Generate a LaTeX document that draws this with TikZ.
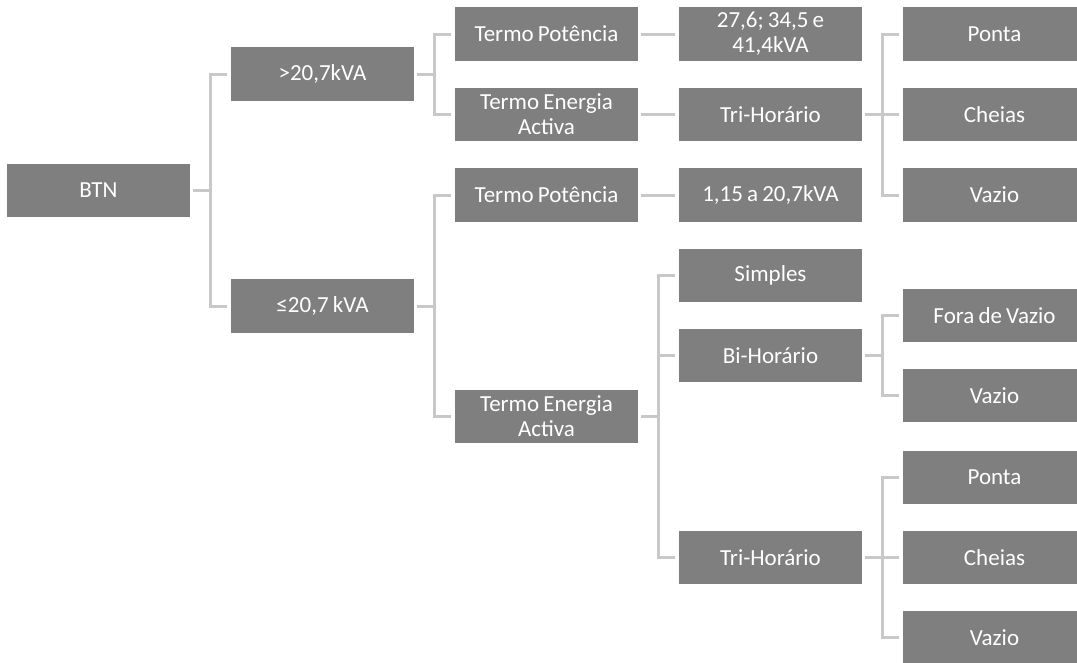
\documentclass[tikz,border=0pt]{standalone}
\usepackage{fontspec}
\setmainfont{Carlito}
\definecolor{boxgray}{RGB}{127,127,127}
\definecolor{linkgray}{RGB}{200,200,200}
\tikzset{
  box/.style={fill=boxgray, text=white, minimum width=183pt, minimum height=53.5pt,
    inner sep=0pt, text width=178pt, align=center,
    font=\fontsize{23}{25}\selectfont,
    execute at begin node={\spaceskip=0.18em\relax}},
  link/.style={draw=linkgray, line width=3pt},
}
\begin{document}
\begin{tikzpicture}[x=1pt,y=-1pt]
  \clip (0,0) rectangle (1077,662);
  \node[box](BTN) at (98.5,190.5){BTN};
  \node[box](GT) at (322.5,74){>20,7kVA};
  \node[box](LE) at (322.5,306){≤20,7 kVA};
  \node[box](TP1) at (546.5,34){Termo Potência};
  \node[box](TE1) at (546.5,114.5){Termo Energia\\Activa};
  \node[box](TP2) at (546.5,195){Termo Potência};
  \node[box](TE2) at (546.5,416.5){Termo Energia\\Activa};
  \node[box](P1) at (770.5,34){27,6; 34,5 e\\41,4kVA};
  \node[box](TH1) at (770.5,114.5){Tri-Horário};
  \node[box](P2) at (770.5,195){1,15 a 20,7kVA};
  \node[box](S) at (770.5,275.5){Simples};
  \node[box](BH) at (770.5,355.5){Bi-Horário};
  \node[box](TH2) at (770.5,557.5){Tri-Horário};
  \node[box](PO1) at (994.5,34){Ponta};
  \node[box](CH1) at (994.5,114.5){Cheias};
  \node[box](VZ1) at (994.5,195){Vazio};
  \node[box](FV) at (994.5,315.5){Fora de Vazio};
  \node[box](VZ2) at (994.5,395.5){Vazio};
  \node[box](PO2) at (994.5,477.5){Ponta};
  \node[box](CH2) at (994.5,557.5){Cheias};
  \node[box](VZ3) at (994.5,637.5){Vazio};
  \draw[link]([xshift=3pt]BTN.east)--++(17,0)|-([xshift=-4pt]GT.west);
  \draw[link]([xshift=3pt]BTN.east)--++(17,0)|-([xshift=-4pt]LE.west);
  \draw[link]([xshift=3pt]GT.east)--++(17,0)|-([xshift=-4pt]TP1.west);
  \draw[link]([xshift=3pt]GT.east)--++(17,0)|-([xshift=-4pt]TE1.west);
  \draw[link]([xshift=3pt]LE.east)--++(17,0)|-([xshift=-4pt]TP2.west);
  \draw[link]([xshift=3pt]LE.east)--++(17,0)|-([xshift=-4pt]TE2.west);
  \draw[link]([xshift=3pt]TP1.east)--++(17,0)|-([xshift=-4pt]P1.west);
  \draw[link]([xshift=3pt]TE1.east)--++(17,0)|-([xshift=-4pt]TH1.west);
  \draw[link]([xshift=3pt]TP2.east)--++(17,0)|-([xshift=-4pt]P2.west);
  \draw[link]([xshift=3pt]TE2.east)--++(17,0)|-([xshift=-4pt]S.west);
  \draw[link]([xshift=3pt]TE2.east)--++(17,0)|-([xshift=-4pt]BH.west);
  \draw[link]([xshift=3pt]TE2.east)--++(17,0)|-([xshift=-4pt]TH2.west);
  \draw[link]([xshift=3pt]TH1.east)--++(17,0)|-([xshift=-4pt]PO1.west);
  \draw[link]([xshift=3pt]TH1.east)--++(17,0)|-([xshift=-4pt]CH1.west);
  \draw[link]([xshift=3pt]TH1.east)--++(17,0)|-([xshift=-4pt]VZ1.west);
  \draw[link]([xshift=3pt]BH.east)--++(17,0)|-([xshift=-4pt]FV.west);
  \draw[link]([xshift=3pt]BH.east)--++(17,0)|-([xshift=-4pt]VZ2.west);
  \draw[link]([xshift=3pt]TH2.east)--++(17,0)|-([xshift=-4pt]PO2.west);
  \draw[link]([xshift=3pt]TH2.east)--++(17,0)|-([xshift=-4pt]CH2.west);
  \draw[link]([xshift=3pt]TH2.east)--++(17,0)|-([xshift=-4pt]VZ3.west);
\end{tikzpicture}
\end{document}
